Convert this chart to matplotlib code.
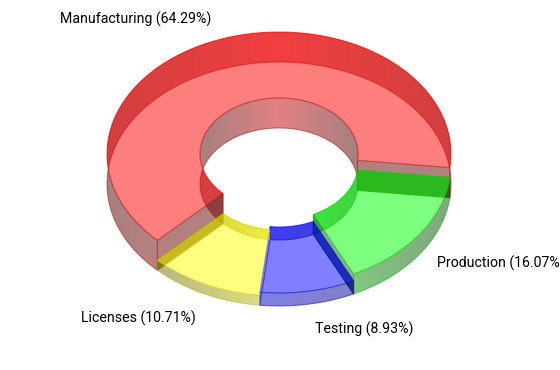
import numpy as np
import matplotlib
matplotlib.use("Agg")
import matplotlib.pyplot as plt
from matplotlib.path import Path
from matplotlib.patches import PathPatch

labels = ["Manufacturing", "Production", "Testing", "Licenses"]
values = [36, 9, 5, 6]
depths = [30, 20, 13, 10]
colors = [(1, 0, 0), (0, 1, 0), (0, 0, 1), (1, 1, 0)]
label_pos = [(60, 19), (437, 263), (315, 329), (81, 318)]

START = 135.0
CX, CY = 279.0, 184.0
RX, RY = 172.0, 122.0
HOLE = 79.0 / 172.0

fig = plt.figure(figsize=(5.6, 3.7), dpi=100)
ax = fig.add_axes([0, 0, 1, 1])
z = [1]


def nextz():
    z[0] += 1
    return z[0]


def arc(t, k, h):
    t = np.radians(t)
    return np.column_stack([CX + RX * k * np.cos(t), CY - h + RY * k * np.sin(t)])


def poly(pts):
    return Path(np.vstack([pts, pts[:1]]), closed=True)


def wall(pts, col, k):
    n = 400
    u = np.abs(np.linspace(-1, 1, n))
    shade = 0.78 - 0.48 * u
    img = np.zeros((1, n, 4))
    for i in range(3):
        img[0, :, i] = col[i] * shade
    img[0, :, 3] = 0.5
    im = ax.imshow(img, extent=[CX - RX * k, CX + RX * k, 400, 0], aspect="auto",
                   zorder=nextz(), interpolation="bilinear")
    im.set_clip_path(poly(pts), transform=ax.transData)


def fill(pts, col, alpha=0.5):
    ax.add_patch(PathPatch(poly(pts), fc=(*col, alpha), ec="none", zorder=nextz()))


def line(pts, col, alpha=0.6, lw=0.8):
    ax.plot(pts[:, 0], pts[:, 1], color=col, alpha=alpha, lw=lw, zorder=nextz(),
            solid_capstyle="butt")


total = sum(values)
spans = []
a = START
for v in values:
    spans.append((a, a + 360.0 * v / total))
    a += 360.0 * v / total

n = len(values)
for i in range(n):
    t0, t1 = spans[i]
    h, col = depths[i], colors[i]
    dark = tuple(c * 0.72 for c in col)
    rim = tuple(c * 0.82 for c in col)
    ts = np.linspace(t0, t1, 240)

    o_top, o_bot = arc(ts, 1, h), arc(ts, 1, 0)
    i_top, i_bot = arc(ts, HOLE, h), arc(ts, HOLE, 0)

    # end caps: one seen almost edge-on only shows as the taller slice's outline
    for t, other in ((t0, depths[(i - 1) % n]), (t1, depths[(i + 1) % n])):
        cap = np.vstack([arc(np.array([t]), HOLE, h), arc(np.array([t]), 1, h),
                         arc(np.array([t]), 1, 0), arc(np.array([t]), HOLE, 0)])
        edge_on = abs(np.cos(np.radians(t))) < 0.2
        if edge_on and h < other:
            continue
        if not edge_on:
            fill(cap, tuple(c * 0.42 for c in col))
        line(np.vstack([cap, cap[:1]]), dark, 0.55)

    # curved walls
    wall(np.vstack([o_top, o_bot[::-1]]), col, 1)
    wall(np.vstack([i_top, i_bot[::-1]]), col, HOLE)
    line(o_bot, dark, 0.5)
    line(i_bot, dark, 0.5)

    # top face
    fill(np.vstack([o_top, i_top[::-1]]), col)
    line(o_top, rim)
    line(i_top, rim)

    pct = 100.0 * values[i] / total
    x, y = label_pos[i]
    ax.text(x, y, f"{labels[i]} ({pct:.2f}%)", ha="left", va="center",
            fontsize=10.15, family="Roboto", color="black", zorder=500, clip_on=False)

ax.set_xlim(0, 560)
ax.set_ylim(370, 0)
ax.axis("off")
fig.savefig("out.png", dpi=100, facecolor="white")
